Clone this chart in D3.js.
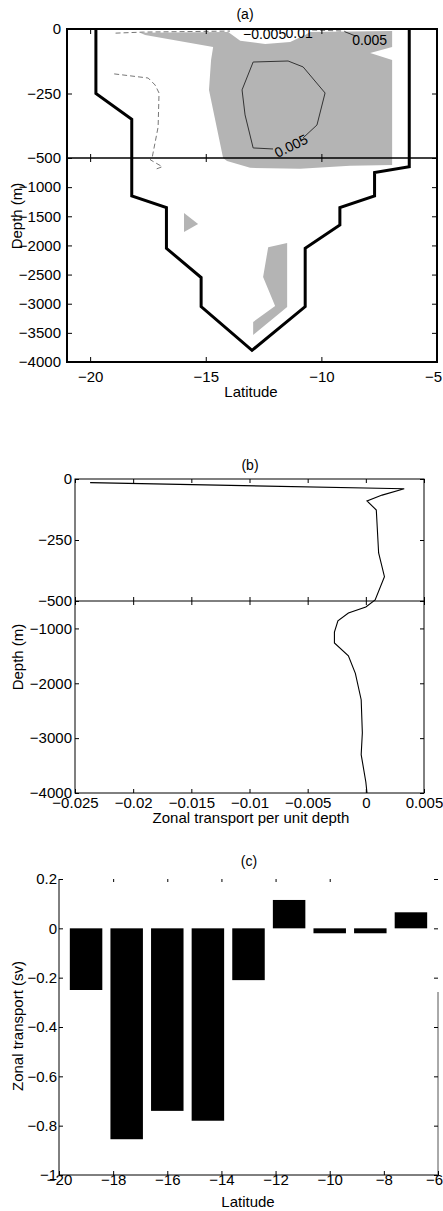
<!DOCTYPE html>
<html>
<head>
<meta charset="utf-8">
<script src="https://d3js.org/d3.v7.min.js"></script>
<style>
  body { margin: 0; background: #fff; }
  text { font-family: "Liberation Sans", Arial, sans-serif; fill: #000; }
</style>
</head>
<body>
<div id="chart"></div>
<script>
// ---- panel (a): section, latitude vs depth ----
var floorLat   = [-19.75, -19.75, -18.2, -18.2, -16.7, -16.7, -15.2, -15.2, -13.0, -10.7, -10.7, -9.2, -9.2, -7.7, -7.7, -6.2, -6.2];
var floorDepth = [0, -250, -350, -1150, -1350, -2050, -2550, -3050, -3800, -3050, -2050, -1650, -1350, -1150, -750, -650, 0];

// shaded regions [lat, depth]
var shadeMain = [[-17.84, -15], [-14.03, -12], [-13.51, -46], [-12.43, -58], [-11.35, -50], [-10.70, -23], [-10.49, -12],
  [-6.94, -8], [-6.94, -70], [-7.89, -93], [-6.94, -120], [-6.94, -500], [-6.94, -620], [-8.76, -635], [-10.92, -686],
  [-13.08, -669], [-14.08, -551], [-14.25, -500], [-14.86, -236], [-14.77, -120], [-14.68, -70], [-17.62, -23]];
var shadeSmall = [[-15.94, -1443], [-15.33, -1632], [-15.94, -1769]];
var shadeDeep = [[-12.30, -2030], [-11.48, -1960], [-11.48, -3055], [-12.95, -3535], [-12.95, -3313], [-12.0, -3038], [-12.52, -2541]];

// contour lines
var contourPos = [[-12.09, -465], [-12.95, -461], [-13.30, -333], [-13.43, -236], [-12.95, -128], [-11.44, -124],
  [-10.79, -147], [-9.84, -248], [-10.19, -372], [-10.79, -422]];
var contourNegLeft = [[-18.96, -174], [-17.49, -190], [-17.19, -217], [-17.02, -248], [-17.06, -380], [-17.28, -481],
  [-17.32, -500], [-17.40, -530], [-16.88, -650], [-17.15, -690]];
var contourNegTop = [[-18.9, -16], [-17.7, -12], [-13.95, -8]];
var contourNegTop2 = [[-10.4, -4], [-9.0, -8]];
var contourPosTop = [[-9.0, -10], [-8.5, -28]];

var aDepthTicks = [0, -250, -500, -1000, -1500, -2000, -2500, -3000, -3500, -4000];
var aLatTicks = [-20, -15, -10, -5];

// ---- panel (b): profile ----
var profDepth = [-15, -40, -66, -90, -127, -303, -400, -496, -609, -720, -860, -1065, -1265, -1500, -1820, -2300, -2900, -3300, -3800, -4000];
var profValue = [-0.0237, 0.0033, 0.0014, 0.0001, 0.0009, 0.0011, 0.0016, 0.0008, 0.0, -0.0015, -0.0024, -0.0027,
  -0.0027, -0.0015, -0.0009, -0.0004, -0.0003, -0.0004, 0.0, 0.0001];
var bDepthTicks = [0, -250, -500, -1000, -2000, -3000, -4000];
var bValueTicks = [-0.025, -0.02, -0.015, -0.01, -0.005, 0, 0.005];

// ---- panel (c): bars ----
var barLat = [-19, -17.5, -16, -14.5, -13, -11.5, -10, -8.5, -7];
var barValue = [-0.25, -0.855, -0.74, -0.78, -0.21, 0.115, -0.02, -0.02, 0.065];
var cLatTicks = [-20, -18, -16, -14, -12, -10, -8, -6];
var cValueTicks = [0.2, 0, -0.2, -0.4, -0.6, -0.8, -1];

var fmt = d3.format("~g");
var FS = 15;

var svg = d3.select("#chart").append("svg")
  .attr("width", 443).attr("height", 1211);

function styleAxis(g) {
  g.select(".domain").remove();
  g.attr("font-family", null).attr("font-size", FS);
  g.selectAll(".tick line").attr("stroke", "#000");
}
// keep the last x label inside the page
function pullLast(g) {
  g.selectAll(".tick:last-of-type text").attr("dx", -4);
}

// ================= (a) =================
var xA = d3.scaleLinear().domain([-21, -5]).range([67, 437]);
var yA = d3.scaleLinear().domain([0, -500, -4000]).range([29, 158, 362]);

var pathA = d3.line().x(function (d) { return xA(d[0]); }).y(function (d) { return yA(d[1]); });

[shadeMain, shadeSmall, shadeDeep].forEach(function (p) {
  svg.append("path").attr("d", pathA(p) + "Z").attr("fill", "#b4b4b4").attr("stroke", "none");
});

svg.append("path").attr("d", pathA(contourPos))
  .attr("fill", "none").attr("stroke", "#333").attr("stroke-width", 1);
[contourNegLeft, contourNegTop, contourNegTop2].forEach(function (p) {
  svg.append("path").attr("d", pathA(p))
    .attr("fill", "none").attr("stroke", "#777").attr("stroke-width", 1).attr("stroke-dasharray", "5,3");
});
svg.append("path").attr("d", pathA(contourPosTop))
  .attr("fill", "none").attr("stroke", "#333").attr("stroke-width", 1);

// contour labels
svg.append("text").attr("x", xA(-13.39)).attr("y", yA(-39)).attr("font-size", 14).text("−0.005");
svg.append("text").attr("x", xA(-11.55)).attr("y", yA(-35)).attr("font-size", 14).text("0.01");
svg.append("text").attr("x", xA(-8.67)).attr("y", yA(-62)).attr("font-size", 14).text("0.005");
svg.append("text")
  .attr("transform", "translate(" + xA(-11.31) + "," + yA(-453) + ") rotate(-26)")
  .attr("text-anchor", "middle").attr("dy", "0.35em").attr("font-size", 14).text("0.005");

// boundary
var floorPts = floorLat.map(function (d, i) { return [d, floorDepth[i]]; });
svg.append("path").attr("d", pathA(floorPts))
  .attr("fill", "none").attr("stroke", "#000").attr("stroke-width", 3).attr("stroke-linejoin", "miter");

// frame
svg.append("rect").attr("x", 67).attr("y", 29).attr("width", 370).attr("height", 333)
  .attr("fill", "none").attr("stroke", "#000").attr("stroke-width", 2);
svg.append("line").attr("x1", 67).attr("x2", 437).attr("y1", yA(-500)).attr("y2", yA(-500))
  .attr("stroke", "#000").attr("stroke-width", 1.3);

svg.append("g").attr("transform", "translate(67,0)")
  .call(d3.axisLeft(yA).tickValues(aDepthTicks).tickSize(-5).tickPadding(6).tickFormat(fmt))
  .call(styleAxis);
svg.append("g").attr("transform", "translate(437,0)")
  .call(d3.axisRight(yA).tickValues(aDepthTicks).tickSize(-5).tickFormat(""))
  .call(styleAxis);
svg.append("g").attr("transform", "translate(0,362)")
  .call(d3.axisBottom(xA).tickValues(aLatTicks).tickSize(-5).tickPadding(9).tickFormat(fmt))
  .call(styleAxis).call(pullLast);
svg.append("g").attr("transform", "translate(0,29)")
  .call(d3.axisTop(xA).tickValues(aLatTicks).tickSize(-5).tickFormat(""))
  .call(styleAxis);
svg.append("g").attr("transform", "translate(0," + yA(-500) + ")")
  .call(d3.axisTop(xA).tickValues(aLatTicks).tickSize(4).tickFormat(""))
  .call(styleAxis);
svg.append("g").attr("transform", "translate(0," + yA(-500) + ")")
  .call(d3.axisBottom(xA).tickValues(aLatTicks).tickSize(4).tickFormat(""))
  .call(styleAxis);

svg.append("text").attr("x", 245).attr("y", 19).attr("text-anchor", "middle").attr("font-size", 14).text("(a)");
svg.append("text").attr("x", 251).attr("y", 397).attr("text-anchor", "middle").attr("font-size", FS).text("Latitude");
svg.append("text").attr("transform", "translate(22,216) rotate(-90)")
  .attr("text-anchor", "middle").attr("font-size", FS).text("Depth (m)");

// ================= (b) =================
var xB = d3.scaleLinear().domain([-0.025, 0.005]).range([75, 424]);
var yB = d3.scaleLinear().domain([0, -500, -4000]).range([479, 601, 793]);

var profPts = profValue.map(function (d, i) { return [d, profDepth[i]]; });
svg.append("path")
  .attr("d", d3.line().x(function (d) { return xB(d[0]); }).y(function (d) { return yB(d[1]); })(profPts))
  .attr("fill", "none").attr("stroke", "#000").attr("stroke-width", 1.1);

svg.append("rect").attr("x", 75).attr("y", 479).attr("width", 349).attr("height", 314)
  .attr("fill", "none").attr("stroke", "#000").attr("stroke-width", 1);
svg.append("line").attr("x1", 75).attr("x2", 424).attr("y1", yB(-500)).attr("y2", yB(-500))
  .attr("stroke", "#000").attr("stroke-width", 1);

svg.append("g").attr("transform", "translate(75,0)")
  .call(d3.axisLeft(yB).tickValues(bDepthTicks).tickSize(-4).tickPadding(3).tickFormat(fmt))
  .call(styleAxis);
svg.append("g").attr("transform", "translate(424,0)")
  .call(d3.axisRight(yB).tickValues(bDepthTicks).tickSize(-4).tickFormat(""))
  .call(styleAxis);
svg.append("g").attr("transform", "translate(0,793)")
  .call(d3.axisBottom(xB).tickValues(bValueTicks).tickSize(-4).tickPadding(4).tickFormat(fmt))
  .call(styleAxis);
svg.append("g").attr("transform", "translate(0,479)")
  .call(d3.axisTop(xB).tickValues(bValueTicks).tickSize(-4).tickFormat(""))
  .call(styleAxis);
svg.append("g").attr("transform", "translate(0," + yB(-500) + ")")
  .call(d3.axisTop(xB).tickValues(bValueTicks).tickSize(4).tickFormat(""))
  .call(styleAxis);
svg.append("g").attr("transform", "translate(0," + yB(-500) + ")")
  .call(d3.axisBottom(xB).tickValues(bValueTicks).tickSize(4).tickFormat(""))
  .call(styleAxis);

svg.append("text").attr("x", 250).attr("y", 470).attr("text-anchor", "middle").attr("font-size", 14).text("(b)");
svg.append("text").attr("x", 251).attr("y", 823).attr("text-anchor", "middle").attr("font-size", FS)
  .text("Zonal transport per unit depth");
svg.append("text").attr("transform", "translate(23,657) rotate(-90)")
  .attr("text-anchor", "middle").attr("font-size", FS).text("Depth (m)");

// ================= (c) =================
var xC = d3.scaleLinear().domain([-20, -6]).range([59, 438]);
var yC = d3.scaleLinear().domain([0.2, -1]).range([879, 1175]);
var halfW = 0.6;

svg.selectAll(".bar").data(barLat).enter().append("rect")
  .attr("class", "bar")
  .attr("x", function (d) { return xC(d - halfW); })
  .attr("width", function (d) { return xC(d + halfW) - xC(d - halfW); })
  .attr("y", function (d, i) { return yC(Math.max(0, barValue[i])); })
  .attr("height", function (d, i) { return Math.abs(yC(barValue[i]) - yC(0)); })
  .attr("fill", "#000");

svg.append("line").attr("x1", 59).attr("x2", 59).attr("y1", 879).attr("y2", 1175).attr("stroke", "#000");
svg.append("line").attr("x1", 59).attr("x2", 438).attr("y1", 1175).attr("y2", 1175).attr("stroke", "#000");
svg.append("line").attr("x1", 438).attr("x2", 438).attr("y1", 992).attr("y2", 1175).attr("stroke", "#555");

svg.append("g").attr("transform", "translate(59,0)")
  .call(d3.axisLeft(yC).tickValues(cValueTicks).tickSize(-4).tickPadding(2).tickFormat(fmt))
  .call(styleAxis);
svg.append("g").attr("transform", "translate(438,0)")
  .call(d3.axisRight(yC).tickValues(cValueTicks).tickSize(-4).tickFormat(""))
  .call(styleAxis);
svg.append("g").attr("transform", "translate(0,1175)")
  .call(d3.axisBottom(xC).tickValues(cLatTicks).tickSize(-4).tickPadding(-1).tickFormat(fmt))
  .call(styleAxis).call(pullLast);
svg.append("g").attr("transform", "translate(0,879)")
  .call(d3.axisTop(xC).tickValues(cLatTicks.slice(1, 6)).tickSize(-3).tickFormat(""))
  .call(styleAxis);

svg.append("text").attr("x", 249).attr("y", 866).attr("text-anchor", "middle").attr("font-size", 14).text("(c)");
svg.append("text").attr("x", 248).attr("y", 1207).attr("text-anchor", "middle").attr("font-size", FS).text("Latitude");
svg.append("text").attr("transform", "translate(23,1026) rotate(-90)")
  .attr("text-anchor", "middle").attr("font-size", FS).text("Zonal transport (sv)");
</script>
</body>
</html>
